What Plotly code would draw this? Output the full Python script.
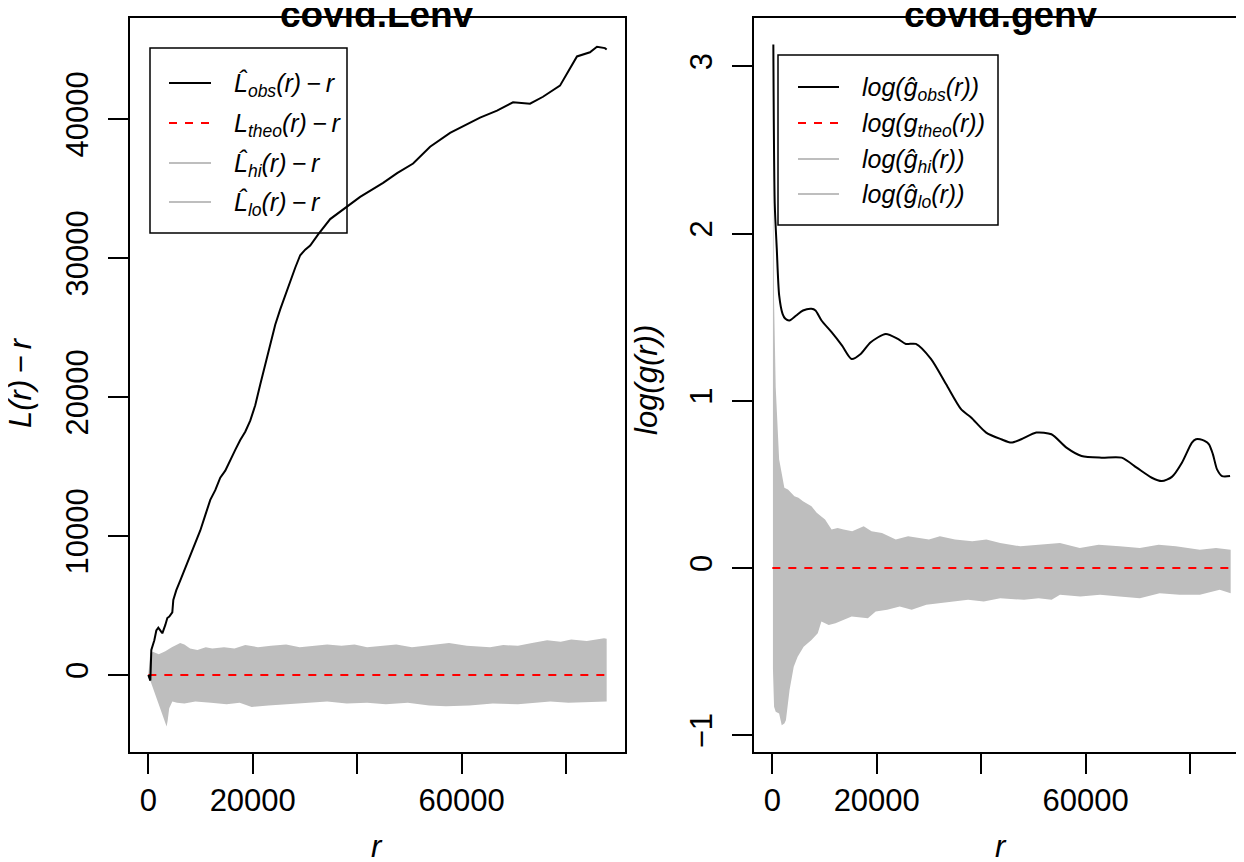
import plotly.graph_objects as go

# ---------------- data ----------------
# Left panel: L(r) - r
L_obs_r = [0, 383, 574, 766, 1148, 1531, 1914, 2488, 2680, 3254, 3637, 4019, 4594, 4785,
           5359, 6125, 7082, 8039, 8996, 9953, 10910, 11867, 12824, 13781, 14738, 15695,
           16652, 17609, 18566, 19523, 20480, 21437, 22394, 23351, 24308, 25265, 26222,
           27179, 28136, 29093, 30050, 31007, 32538, 34835, 38089, 40577, 44979, 47659,
           50721, 53975, 57803, 63545, 66799, 69861, 73115, 75603, 78857, 80197, 82111,
           84599, 85939, 87470, 87800]
L_obs = [0, -400, 1800, 2000, 2500, 3200, 3400, 3100, 3000, 3600, 4100, 4200, 4500, 5400,
         6100, 6800, 7700, 8600, 9400, 10400, 11500, 12600, 13300, 14200, 14700, 15500,
         16200, 16900, 17500, 18300, 19400, 20900, 22300, 23700, 25200, 26300, 27300,
         28400, 29300, 30200, 30600, 30900, 31700, 32800, 33700, 34400, 35400, 36100,
         36800, 38000, 39000, 40100, 40600, 41200, 41100, 41600, 42400, 43300, 44500,
         44800, 45200, 45100, 45000]

L_hi_r = [0, 190, 380, 960, 2000, 3250, 4500, 6100, 6900, 8000, 9400, 11000, 12250, 14500,
          16500, 18570, 21000, 23500, 26400, 29000, 31500, 34260, 37000, 39500, 41900,
          44500, 47500, 50500, 53800, 57600, 61000, 65460, 68000, 70800, 73500, 76400,
          79000, 81000, 84000, 87300, 87800]
L_hi = [0, 1200, 1600, 1650, 1500, 1700, 2000, 2300, 2200, 1900, 1800, 2000, 1900, 2000,
        1900, 2150, 2000, 2100, 2200, 2000, 2100, 2200, 2100, 2200, 2000,
        2100, 2200, 2000, 2150, 2300, 2100, 2000, 2150, 2100, 2300, 2500,
        2400, 2550, 2450, 2650, 2600]

L_lo_r = [0, 3500, 3700, 4000, 4600, 5500, 6900, 9000, 12000, 15000, 17500, 19800, 23000,
          26400, 30000, 34260, 38000, 41900, 45500, 49700, 53800, 57000, 61500, 66000,
          70800, 74000, 77000, 80500, 84000, 87800]
L_lo = [0, -3700, -3300, -2400, -1900, -2000, -2050, -1900, -2000, -2100, -2000, -2300, -2200,
        -2100, -2000, -1900, -2050, -2000, -2100, -2000, -2200, -2250, -2200, -2050,
        -2100, -2000, -1900, -2000, -1950, -1900]

L_theo_r = [0, 87800]
L_theo = [0, 0]

# Right panel: log(g(r))
g_obs_r = [192, 460, 850, 1310, 1960, 2500, 3270, 4580, 5870, 7500, 8270, 9420, 11350, 13360,
           15190, 16920, 18850, 21730, 24040, 25580, 27500, 30380, 33270, 36150, 38080,
           40960, 43840, 45770, 47690, 50570, 53460, 56340, 59230, 63070, 66920, 69800,
           72690, 74610, 76540, 78460, 80380, 81150, 81920, 82800, 83650, 84400, 85190,
           86150, 87690]
g_obs = [3.13, 2.18, 1.91, 1.63, 1.52, 1.49, 1.48, 1.51, 1.54, 1.55, 1.54, 1.48, 1.41, 1.33,
         1.25, 1.28, 1.35, 1.40, 1.37, 1.34, 1.34, 1.25, 1.10, 0.95, 0.90,
         0.81, 0.77, 0.75, 0.77, 0.81, 0.80, 0.72, 0.67, 0.66, 0.66, 0.60,
         0.54, 0.52, 0.545, 0.63, 0.75, 0.77, 0.77, 0.76, 0.74, 0.68, 0.59,
         0.55, 0.55]

g_hi_r = [115, 330, 650, 1300, 2300, 3000, 4230, 5000, 5870, 7500, 8500, 10100, 11350, 12500,
          13650, 15300, 17500, 19000, 21000, 23650, 26000, 28300, 30000, 32100, 35000,
          38300, 41000, 43650, 47500, 51000, 55100, 58900, 62500, 66500, 70400, 74000,
          77300, 81900, 85000, 87800]
g_hi = [2.40, 1.60, 1.08, 0.65, 0.48, 0.47, 0.43, 0.42, 0.40, 0.37, 0.33, 0.29, 0.23, 0.24,
        0.23, 0.22, 0.25, 0.22, 0.21, 0.17, 0.19, 0.18, 0.17, 0.19, 0.17,
        0.16, 0.17, 0.15, 0.13, 0.14, 0.15, 0.12, 0.14, 0.13, 0.12, 0.14,
        0.13, 0.11, 0.12, 0.11]

g_lo_r = [115, 330, 650, 1300, 1800, 2300, 2600, 3300, 4100, 4850, 6000, 7500, 8700, 9400,
          10800, 12100, 15200, 18300, 19800, 22000, 24400, 26700, 29500, 32100, 35000,
          37500, 40500, 43650, 48200, 51000, 53500, 55100, 59000, 62800, 66500, 70400,
          74200, 78000, 81900, 85700, 87800]
g_lo = [-0.60, -0.83, -0.86, -0.87, -0.94, -0.93, -0.91, -0.73, -0.59, -0.53, -0.47, -0.43,
        -0.39, -0.32, -0.34, -0.33, -0.29, -0.30, -0.26, -0.25, -0.23, -0.25, -0.22, -0.21,
        -0.20, -0.19, -0.20, -0.18, -0.19, -0.18, -0.19, -0.16, -0.17, -0.16, -0.17, -0.18,
        -0.15, -0.16, -0.16, -0.13, -0.15]

g_theo_r = [0, 87800]
g_theo = [0, 0]

x_ticks_labeled = [0, 20000, 60000]
x_ticks_unlabeled = [40000, 80000]
L_yticks = [0, 10000, 20000, 30000, 40000]
L_yticktext = ["0", "10000", "20000", "30000", "40000"]
g_yticks = [-1, 0, 1, 2, 3]
g_yticktext = ["\u22121", "0", "1", "2", "3"]

titles = ["covid.Lenv", "covid.genv"]
L_legend = ["<i>L\u0302<sub>obs</sub>(r)\u2009\u2212\u2009r</i>",
            "<i>L<sub>theo</sub>(r)\u2009\u2212\u2009r</i>",
            "<i>L\u0302<sub>hi</sub>(r)\u2009\u2212\u2009r</i>",
            "<i>L\u0302<sub>lo</sub>(r)\u2009\u2212\u2009r</i>"]
g_legend = ["<i>log(\u011d<sub>obs</sub>(r))</i>",
            "<i>log(g<sub>theo</sub>(r))</i>",
            "<i>log(\u011d<sub>hi</sub>(r))</i>",
            "<i>log(\u011d<sub>lo</sub>(r))</i>"]

# ---------------- styling ----------------
OFF = 8                      # default page body margin
W, H = 1244 - OFF, 862 - OFF
FONT = "Liberation Sans, Arial, Helvetica, sans-serif"
GREY = "#BEBEBE"
leg_colors = ["black", "red", GREY, GREY]
leg_dash = ["solid", "8px,8px", "solid", "solid"]


def px(x):
    return (x - OFF) / W


def py(y):
    return 1 - (y - OFF) / H


fig = go.Figure()


def add_panel(xa, ya, lo_r, lo, hi_r, hi, th_r, th, ob_r, ob, obs_shape):
    fig.add_trace(go.Scatter(x=lo_r, y=lo, mode="lines", line=dict(width=0, color=GREY),
                             xaxis=xa, yaxis=ya, showlegend=False, hoverinfo="skip"))
    fig.add_trace(go.Scatter(x=hi_r, y=hi, mode="lines", line=dict(width=0, color=GREY),
                             fill="tonexty", fillcolor=GREY,
                             xaxis=xa, yaxis=ya, showlegend=False, hoverinfo="skip"))
    fig.add_trace(go.Scatter(x=th_r, y=th, mode="lines",
                             line=dict(width=2, color="red", dash="8px,8px"),
                             xaxis=xa, yaxis=ya, showlegend=False))
    fig.add_trace(go.Scatter(x=ob_r, y=ob, mode="lines",
                             line=dict(width=2, color="black", **obs_shape),
                             xaxis=xa, yaxis=ya, showlegend=False))


add_panel("x", "y", L_lo_r, L_lo, L_hi_r, L_hi, L_theo_r, L_theo, L_obs_r, L_obs, {})
add_panel("x2", "y2", g_lo_r, g_lo, g_hi_r, g_hi, g_theo_r, g_theo, g_obs_r, g_obs,
          dict(shape="spline", smoothing=0.7))

axis_common = dict(showgrid=False, zeroline=False, showline=True, linecolor="black",
                   linewidth=1.5, ticks="outside", ticklen=20, tickwidth=1.5,
                   tickcolor="black", tickfont=dict(family=FONT, size=31, color="black"))
minor_x = dict(tickmode="array", tickvals=x_ticks_unlabeled, ticks="outside", ticklen=20,
               tickwidth=1.5, tickcolor="black", showgrid=False)

y_dom = [py(752), py(18)]
fig.update_layout(
    width=W, height=H, margin=dict(l=0, r=0, t=0, b=0),
    paper_bgcolor="white", plot_bgcolor="white", showlegend=False,
    xaxis=dict(domain=[px(130), px(625)], range=[-3512, 91312], tickvals=x_ticks_labeled,
               ticktext=[str(v) for v in x_ticks_labeled], minor=minor_x,
               mirror=True, anchor="y", **axis_common),
    yaxis=dict(domain=y_dom, range=[-5540, 47266], tickvals=L_yticks, ticktext=L_yticktext,
               tickangle=-90, mirror=True, anchor="x", ticklabelstandoff=8, **axis_common),
    xaxis2=dict(domain=[px(754), 1.0], range=[-3512, 90354], tickvals=x_ticks_labeled,
                ticktext=[str(v) for v in x_ticks_labeled], minor=minor_x,
                mirror=True, anchor="y2", **axis_common),
    yaxis2=dict(domain=y_dom, range=[-1.100, 3.289], tickvals=g_yticks,
                ticktext=g_yticktext, tickangle=-90, mirror=False, anchor="x2",
                ticklabelstandoff=8, **axis_common),
)

ann = []
# titles
for t, cx in zip(titles, [377, 1001]):
    ann.append(dict(text="<b>%s</b>" % t, x=px(cx), y=py(14), xref="paper", yref="paper",
                    xanchor="center", yanchor="middle", showarrow=False,
                    font=dict(family=FONT, size=37, color="black")))
# axis titles
for cx in [377, 1001]:
    ann.append(dict(text="<i>r</i>", x=px(cx), y=py(846), xref="paper", yref="paper",
                    xanchor="center", yanchor="middle", showarrow=False,
                    font=dict(family=FONT, size=31, color="black")))
ann.append(dict(text="<i>L(r)\u2009\u2212\u2009r</i>", x=px(21), y=py(383), xref="paper",
                yref="paper", xanchor="center", yanchor="middle", textangle=-90,
                showarrow=False, font=dict(family=FONT, size=31, color="black")))
ann.append(dict(text="<i>log(g(r))</i>", x=px(646), y=py(380), xref="paper",
                yref="paper", xanchor="center", yanchor="middle", textangle=-90,
                showarrow=False, font=dict(family=FONT, size=31, color="black")))

shapes = []
# legends
legends = [
    dict(box=(150, 48, 347, 233), line=(169, 211), tx=232, ys=[83, 123, 163, 202], texts=L_legend),
    dict(box=(778, 55, 998, 225), line=(798, 839), tx=860, ys=[87, 123, 159, 194], texts=g_legend),
]
for lg in legends:
    x0, y0, x1, y1 = lg["box"]
    shapes.append(dict(type="rect", xref="paper", yref="paper", x0=px(x0), x1=px(x1),
                       y0=py(y1), y1=py(y0), line=dict(color="black", width=1.5)))
    for yy, txt, col, dsh in zip(lg["ys"], lg["texts"], leg_colors, leg_dash):
        shapes.append(dict(type="line", xref="paper", yref="paper", x0=px(lg["line"][0]),
                           x1=px(lg["line"][1]), y0=py(yy), y1=py(yy),
                           line=dict(color=col, width=2, dash=dsh)))
        ann.append(dict(text=txt, x=px(lg["tx"]), y=py(yy + 2), xref="paper", yref="paper",
                        xanchor="left", yanchor="middle", showarrow=False,
                        font=dict(family=FONT, size=25, color="black")))

fig.update_layout(annotations=ann, shapes=shapes)
fig.write_html("out.html")
